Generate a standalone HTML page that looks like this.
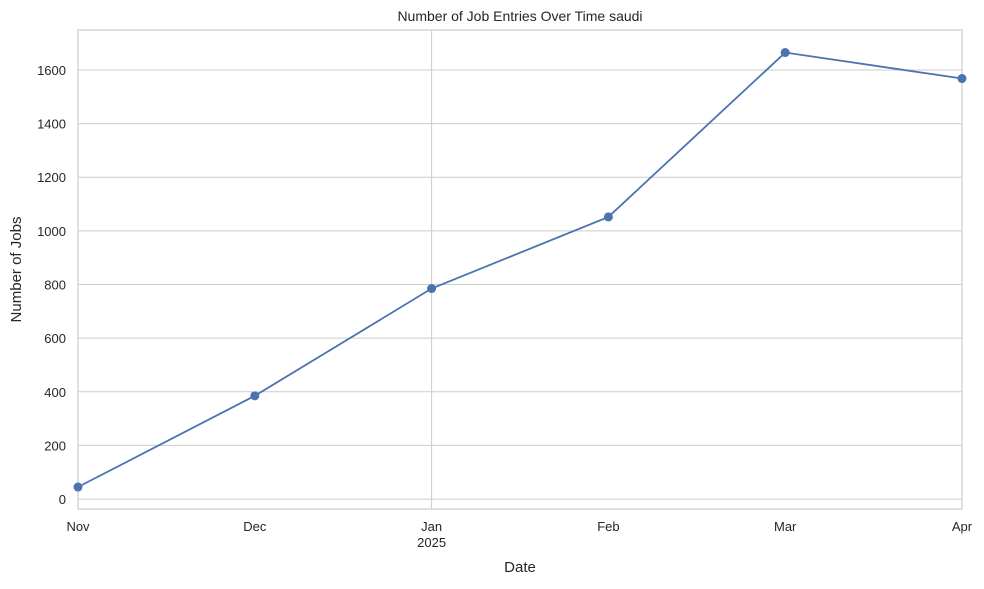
<!DOCTYPE html>
<html><head><meta charset="utf-8"><style>
body{margin:0;background:#fff;font-family:"Liberation Sans","DejaVu Sans",sans-serif;}
svg text{font-family:"Liberation Sans","DejaVu Sans",sans-serif;fill:#262626;}
</style></head><body>
<svg id="chart" width="984" height="584" xmlns="http://www.w3.org/2000/svg"></svg>
<script>
const categories = ["Nov","Dec","Jan","Feb","Mar","Apr"];
const subLabels = ["","","2025","","",""];
const values = [45, 385, 785, 1052, 1665, 1568];
const yTicks = [0,200,400,600,800,1000,1200,1400,1600];

const L=78,R=962,T=30,B=509, yMin=-37, yMax=1749;
const xs=i=>L+(R-L)*i/(categories.length-1);
const ys=v=>B-(v-yMin)/(yMax-yMin)*(B-T);
const svg=document.getElementById('chart');
const NS='http://www.w3.org/2000/svg';
function mk(tag,attrs,parent){const e=document.createElementNS(NS,tag);for(const k in attrs)e.setAttribute(k,attrs[k]);(parent||svg).appendChild(e);return e;}

yTicks.forEach(v=>{
  const g=mk('line',{x1:L,x2:R,y1:ys(v),y2:ys(v),stroke:'#cccccc','stroke-width':1});
  
  
  const t=mk('text',{x:L-12,y:ys(v)+5,'text-anchor':'end','font-size':13});
  t.textContent=v;
  
  
});
// major vertical grid at Jan
const vg=mk('line',{x1:xs(2),x2:xs(2),y1:T,y2:B,stroke:'#cccccc','stroke-width':1});



const frame=mk('rect',{x:L,y:T,width:R-L,height:B-T,fill:'none',stroke:'#cccccc','stroke-width':1.2});



categories.forEach((c,i)=>{
  const t=mk('text',{x:xs(i),y:531,'text-anchor':'middle','font-size':13});
  t.textContent=c;
  
  
  if(subLabels[i]){
    const s=mk('text',{x:xs(i),y:547,'text-anchor':'middle','font-size':13});
    s.textContent=subLabels[i];
    
    
  }
});

const pts=values.map((v,i)=>xs(i)+','+ys(v)).join(' ');
const line=mk('polyline',{points:pts,fill:'none',stroke:'#4c72b0','stroke-width':1.8});


values.forEach((v,i)=>{
  const c=mk('circle',{cx:xs(i),cy:ys(v),r:4.5,fill:'#4c72b0'});
  
  
});

const title=mk('text',{x:(L+R)/2,y:21,'text-anchor':'middle','font-size':14});
title.textContent='Number of Job Entries Over Time saudi';


const xt=mk('text',{x:(L+R)/2,y:572,'text-anchor':'middle','font-size':15});
xt.textContent='Date';


const yt=mk('text',{x:0,y:0,'text-anchor':'middle','font-size':15,transform:'translate(21,'+((T+B)/2)+') rotate(-90)'});
yt.textContent='Number of Jobs';


</script>
</body></html>
